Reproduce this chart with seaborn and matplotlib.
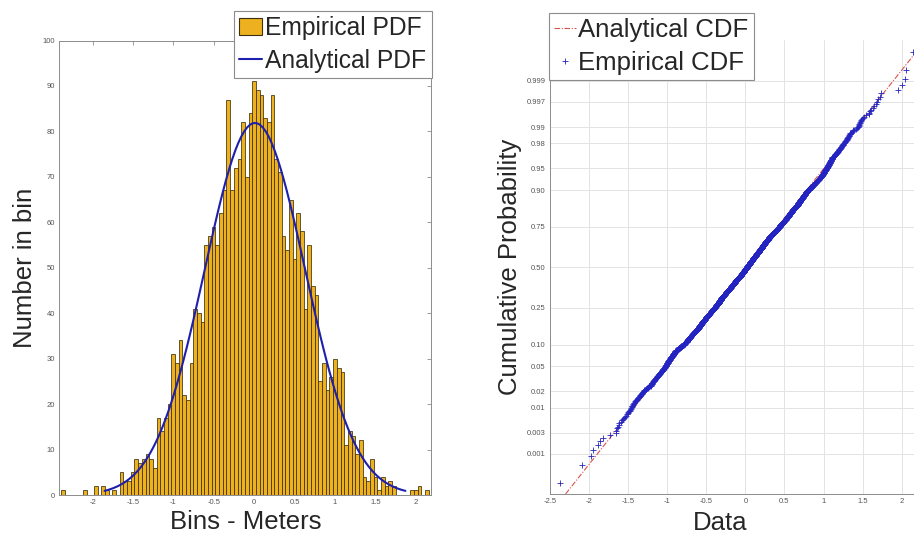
import numpy as np
import pandas as pd
import matplotlib
matplotlib.use("Agg")
import matplotlib.pyplot as plt
import seaborn as sns
from matplotlib.patches import Patch
from matplotlib.lines import Line2D
from statistics import NormalDist

# ---------------- data ----------------
# histogram: 100 equal bins between data min and max
bin_lo, bin_hi = -2.393, 2.163
counts = [1, 0, 0, 0, 0, 0, 1, 0, 0, 2,
          0, 2, 1, 0, 1, 0, 5, 3, 3, 5,
          8, 7, 8, 9, 8, 6, 17, 14, 17, 20,
          31, 29, 34, 22, 21, 29, 41, 40, 38, 55,
          57, 59, 55, 62, 67, 87, 67, 72, 74, 82,
          70, 84, 91, 89, 88, 83, 82, 88, 74, 71,
          57, 54, 65, 52, 62, 58, 41, 55, 46, 44,
          25, 29, 23, 26, 30, 28, 27, 11, 14, 13,
          9, 12, 4, 3, 8, 4, 1, 4, 2, 3,
          2, 0, 0, 0, 0, 1, 1, 2, 0, 1]
# fitted normal (analytical PDF) and normal-plot reference line
pdf_mu, pdf_sigma = 0.01, 0.621
cdf_mu, cdf_sigma = 0.0, 0.612

hist_xticks = [-2, -1.5, -1, -0.5, 0, 0.5, 1, 1.5, 2]
hist_xlabels = ["-2", "-1.5", "-1", "-0.5", "0", "0.5", "1", "1.5", "2"]
hist_yticks = [0, 10, 20, 30, 40, 50, 60, 70, 80, 90, 100]
cdf_xticks = [-2.5, -2, -1.5, -1, -0.5, 0, 0.5, 1, 1.5, 2]
cdf_xlabels = ["-2.5", "-2", "-1.5", "-1", "-0.5", "0", "0.5", "1", "1.5", "2"]
prob_ticks = [0.001, 0.003, 0.01, 0.02, 0.05, 0.10, 0.25, 0.50, 0.75, 0.90,
              0.95, 0.98, 0.99, 0.997, 0.999]
prob_labels = ["0.001", "0.003", "0.01", "0.02", "0.05", "0.10", "0.25", "0.50",
               "0.75", "0.90", "0.95", "0.98", "0.99", "0.997", "0.999"]

# ---------------- derived quantities ----------------
nd = NormalDist()
edges = np.linspace(bin_lo, bin_hi, len(counts) + 1)
bw = edges[1] - edges[0]
centers = (edges[:-1] + edges[1:]) / 2
hist_df = pd.DataFrame({"center": centers, "count": np.asarray(counts, dtype=float)})
# sample values recovered from the histogram (spread inside each bin)
samples = np.concatenate([edges[i] + (np.arange(c) + 0.5) / c * bw
                          for i, c in enumerate(counts) if c > 0])
n = len(samples)
pos = (np.arange(1, n + 1) - 0.5) / n
zpos = np.array([nd.inv_cdf(p) for p in pos])

xpdf = np.linspace(pdf_mu - 3 * pdf_sigma, pdf_mu + 3 * pdf_sigma, 100)
ypdf = n * bw * np.array([NormalDist(pdf_mu, pdf_sigma).pdf(v) for v in xpdf])

zlim = (-3.76, 3.77)
zline = np.array(zlim)
xline = cdf_mu + cdf_sigma * zline

# ---------------- style ----------------
sns.set_style("white")
plt.rcParams["font.family"] = ["Liberation Sans", "DejaVu Sans"]
tick_col = "#555555"
spine_col = "#8c8c8c"
bar_col = "#EDB120"
pdf_col = "#1f1fae"
pt_col = "#2424c0"
ref_col = "#d9534f"
big = 18.5

fig = plt.figure(figsize=(9.14, 5.40), dpi=100)

# ---------------- left: histogram ----------------
ax1 = fig.add_axes([59.3 / 914, 45 / 540, (431 - 59.3) / 914, (495 - 40.5) / 540])
sns.histplot(data=hist_df, x="center", weights="count", bins=len(counts),
             binrange=(bin_lo, bin_hi), stat="count",
             color=bar_col, edgecolor="#3d300e", linewidth=0.55, alpha=1.0, ax=ax1)
sns.lineplot(x=xpdf, y=ypdf, color=pdf_col, linewidth=1.5, ax=ax1)
ax1.set_xlim(-2.413, 2.19)
ax1.set_ylim(0, 100)
ax1.set_xticks(hist_xticks)
ax1.set_xticklabels(hist_xlabels)
ax1.set_yticks(hist_yticks)
ax1.set_yticklabels([str(v) for v in hist_yticks])
ax1.set_xlabel("")
ax1.set_ylabel("")
ax1.tick_params(direction="in", length=3, width=0.6, top=True, right=True,
                labelsize=5.5, labelcolor=tick_col, color=spine_col, pad=3)
for s in ax1.spines.values():
    s.set_color(spine_col)
    s.set_linewidth(0.7)
    s.set_visible(True)

h1 = [Patch(facecolor=bar_col, edgecolor="#3d300e", linewidth=0.8),
      Line2D([0], [0], color=pdf_col, lw=1.5)]
leg1 = ax1.legend(h1, ["Empirical PDF", "Analytical PDF"], loc="upper right",
                  bbox_to_anchor=(431.7 / 914, 1 - 11 / 540), bbox_transform=fig.transFigure,
                  borderaxespad=0, fontsize=17.7, frameon=True, fancybox=False,
                  framealpha=1, edgecolor=spine_col, handlelength=0.95,
                  handletextpad=0.12, borderpad=0.22, labelspacing=0.33)
leg1.get_frame().set_linewidth(0.8)

fig.text(246 / 914, 1 - 522 / 540, "Bins - Meters", ha="center", va="center",
         fontsize=big, color="#262626")
fig.text(25 / 914, 1 - 267.5 / 540, "Number in bin", ha="center", va="center",
         rotation=90, fontsize=big, color="#262626")

# ---------------- right: normal probability plot ----------------
ax2 = fig.add_axes([550 / 914, 46 / 540, (914 - 550) / 914, (494 - 40) / 540])
sns.lineplot(x=xline, y=zline, color=ref_col, linewidth=0.8,
             linestyle=(0, (5, 1.5, 1, 1.5)), ax=ax2)
sns.scatterplot(x=samples, y=zpos, marker="+", color=pt_col, s=22,
                linewidth=0.6, ax=ax2, zorder=3)
ax2.set_xlim(-2.5, 2.158)
ax2.set_ylim(*zlim)
ax2.set_xticks(cdf_xticks)
ax2.set_xticklabels(cdf_xlabels)
ax2.set_yticks([nd.inv_cdf(p) for p in prob_ticks])
ax2.set_yticklabels(prob_labels)
ax2.grid(True, color="#e3e3e3", linewidth=0.7)
ax2.set_axisbelow(True)
ax2.set_xlabel("")
ax2.set_ylabel("")
ax2.tick_params(direction="in", length=3, width=0.6, labelsize=5.5,
                labelcolor=tick_col, color=spine_col, pad=3)
ax2.spines["top"].set_visible(False)
ax2.spines["right"].set_visible(False)
for k in ("left", "bottom"):
    ax2.spines[k].set_color(spine_col)
    ax2.spines[k].set_linewidth(0.7)

h2 = [Line2D([0], [0], color=ref_col, lw=0.8, linestyle=(0, (5, 1.5, 1, 1.5))),
      Line2D([0], [0], color=pt_col, lw=0, marker="+", markersize=5, markeredgewidth=0.6)]
leg2 = ax2.legend(h2, ["Analytical CDF", "Empirical CDF"], loc="upper left",
                  bbox_to_anchor=(549.3 / 914, 1 - 13.3 / 540), bbox_transform=fig.transFigure,
                  borderaxespad=0, fontsize=big, frameon=True, fancybox=False,
                  framealpha=1, edgecolor=spine_col, handlelength=0.85,
                  handletextpad=0.08, borderpad=0.2, labelspacing=0.33)
leg2.get_frame().set_linewidth(0.8)

fig.text(720 / 914, 1 - 523 / 540, "Data", ha="center", va="center",
         fontsize=big, color="#262626")
fig.text(510 / 914, 1 - 267 / 540, "Cumulative Probability", ha="center", va="center",
         rotation=90, fontsize=big, color="#262626")

fig.savefig("out.png", dpi=100)
